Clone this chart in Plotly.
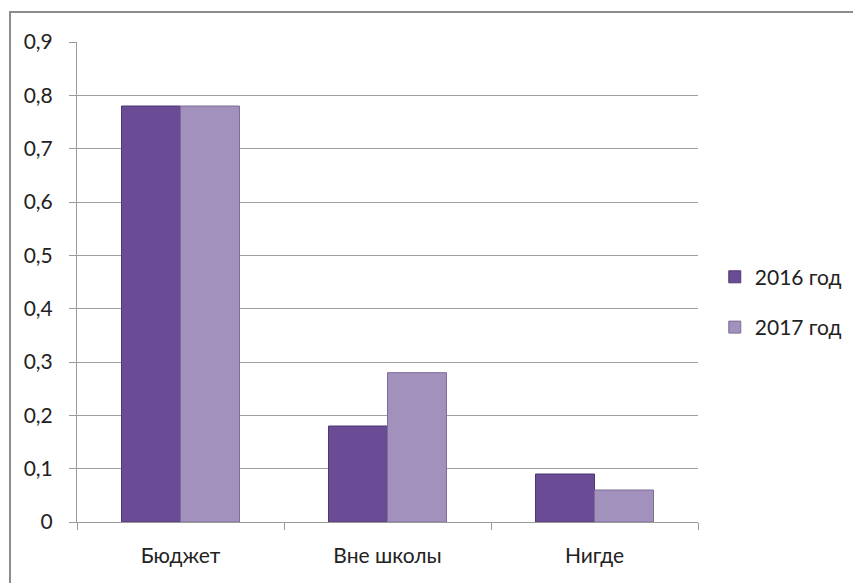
import plotly.graph_objects as go

categories = ["Бюджет", "Вне школы", "Нигде"]
series_names = ["2016 год", "2017 год"]
values_2016 = [0.78, 0.18, 0.09]
values_2017 = [0.78, 0.28, 0.06]
tick_vals = [0, 0.1, 0.2, 0.3, 0.4, 0.5, 0.6, 0.7, 0.8, 0.9]
tick_text = ["0", "0,1", "0,2", "0,3", "0,4", "0,5", "0,6", "0,7", "0,8", "0,9"]

FONT = "Lato, Roboto, sans-serif"

fig = go.Figure()
fig.add_trace(go.Bar(
    x=categories, y=values_2016, name=series_names[0], legendgroup="a",
    marker=dict(color="#6a4b96", line=dict(color="#4f3870", width=1)),
))
fig.add_trace(go.Bar(
    x=categories, y=values_2017, name=series_names[1], legendgroup="b",
    marker=dict(color="#a290bd", line=dict(color="#7d6e96", width=1)),
))

fig.update_layout(
    width=861, height=583,
    margin=dict(l=69, r=171, t=34, b=69),
    paper_bgcolor="white", plot_bgcolor="white",
    barmode="group", bargap=0.43, bargroupgap=0,
    font=dict(family=FONT, size=21, color="#222222"),
    showlegend=True,
    legend=dict(x=1.027, y=0.458, xanchor="left", yanchor="middle",
                font=dict(size=21), traceorder="grouped", tracegroupgap=20,
                bgcolor="rgba(0,0,0,0)"),
    shapes=[dict(type="rect", xref="paper", yref="paper",
                 x0=-0.1079, y0=-0.2, x1=1.4, y1=1.0625,
                 line=dict(color="#8c8c8c", width=2), fillcolor="rgba(0,0,0,0)",
                 layer="below")],
)
fig.update_xaxes(
    type="category", showline=True, linecolor="#9a9a9a", linewidth=1,
    ticks="outside", tickson="boundaries", ticklen=7, tickcolor="#9a9a9a",
    showgrid=False, tickfont=dict(size=21), ticklabelstandoff=15,
)
fig.update_yaxes(
    range=[0, 0.9], tickvals=tick_vals, ticktext=tick_text,
    showline=True, linecolor="#9a9a9a", linewidth=1,
    ticks="outside", ticklen=7, tickcolor="#9a9a9a",
    showgrid=True, gridcolor="#a0a0a0", gridwidth=1,
    zeroline=False, tickfont=dict(size=21), ticklabelstandoff=12,
)

fig.write_html("out.html")
